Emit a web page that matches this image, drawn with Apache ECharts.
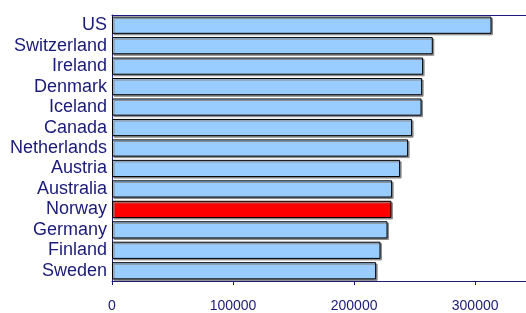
<!DOCTYPE html>
<html>
<head>
<meta charset="utf-8">
<script src="https://cdn.jsdelivr.net/npm/echarts@6/dist/echarts.min.js"></script>
<style>
    html, body { margin: 0; padding: 0; background: #fff; }
    #chart { width: 526px; height: 313px; }
</style>
</head>
<body>
<div id="chart"></div>
<script>
    const countries = ['US', 'Switzerland', 'Ireland', 'Denmark', 'Iceland', 'Canada', 'Netherlands',
        'Austria', 'Australia', 'Norway', 'Germany', 'Finland', 'Sweden'];
    const values = [313500, 265000, 257000, 256200, 255700, 247900, 244600,
        238000, 231400, 230800, 227600, 221800, 218200];
    const highlight = 'Norway';
    const xTicks = [0, 100000, 200000, 300000];

    const navy = '#1a1a78';
    const chart = echarts.init(document.getElementById('chart'));
    chart.setOption({
        animation: false,
        grid: {left: 112, right: 0, top: 15, bottom: 30},
        xAxis: [{
            type: 'value',
            min: xTicks[0],
            max: 342000,
            interval: xTicks[1] - xTicks[0],
            axisLine: {show: true, lineStyle: {color: navy, width: 1}},
            axisTick: {show: true, length: 4, lineStyle: {color: navy}},
            axisLabel: {
                color: navy,
                fontFamily: 'Liberation Sans, Arial, sans-serif',
                fontSize: 14,
                margin: 18,
                showMaxLabel: false,
                formatter: (value) => String(value)
            },
            splitLine: {show: false}
        }, {
            type: 'value',
            position: 'top',
            min: 0,
            max: 342000,
            axisLine: {show: true, lineStyle: {color: navy, width: 1}},
            axisTick: {show: false},
            axisLabel: {show: false},
            splitLine: {show: false}
        }],
        yAxis: {
            type: 'category',
            inverse: true,
            data: countries,
            axisLine: {show: true, lineStyle: {color: navy, width: 1}},
            axisTick: {show: false},
            axisLabel: {
                color: navy,
                interval: 0,
                fontFamily: 'Liberation Sans, Arial, sans-serif',
                fontSize: 18,
                margin: 5
            }
        },
        series: [{
            type: 'bar',
            xAxisIndex: 0,
            barCategoryGap: '16%',
            data: values.map((v, i) => ({
                value: v,
                itemStyle: {color: countries[i] === highlight ? '#ff0000' : '#99ccff'}
            })),
            itemStyle: {
                borderColor: '#000000',
                borderWidth: 1,
                shadowColor: '#8a8a8a',
                shadowOffsetX: 1.5,
                shadowOffsetY: 1.5,
                shadowBlur: 0
            }
        }]
    });
</script>
</body>
</html>
